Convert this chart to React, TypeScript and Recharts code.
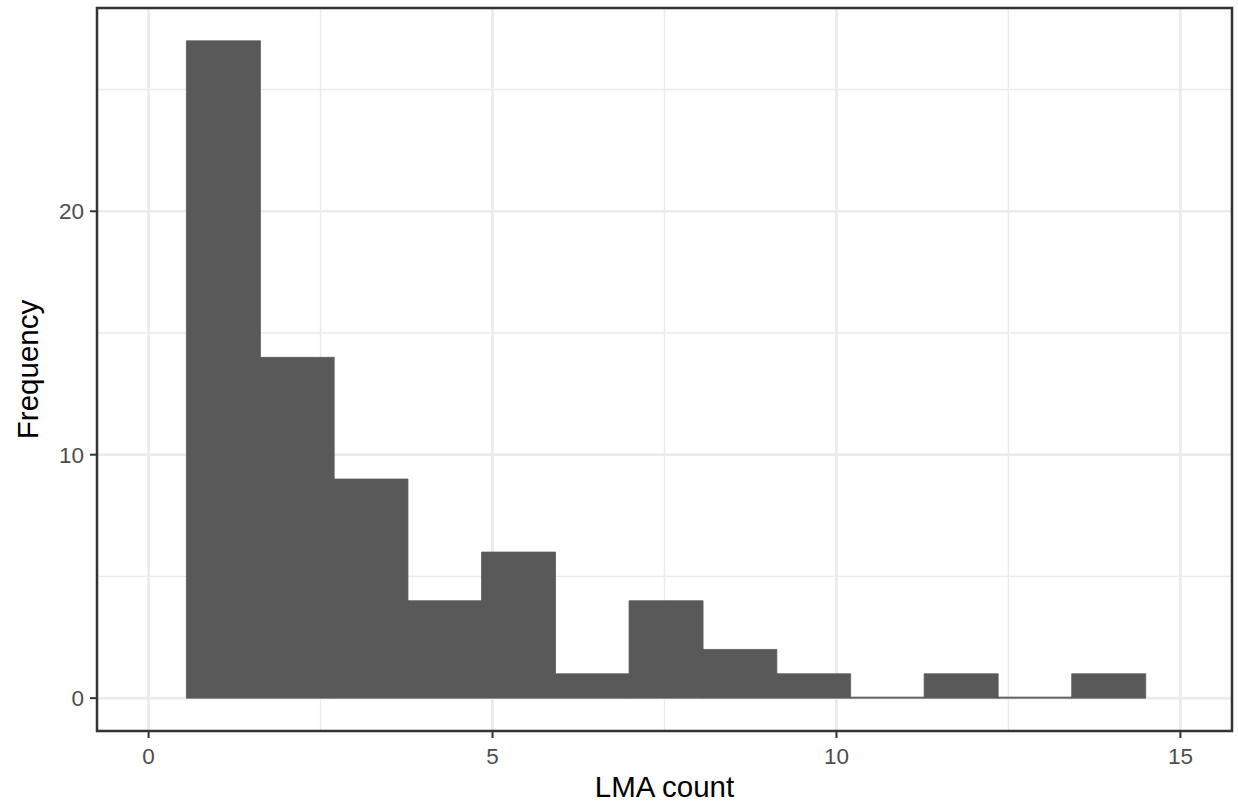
import React from 'react';
import {
  BarChart,
  Bar,
  XAxis,
  YAxis,
  CartesianGrid,
  ReferenceArea,
  Label,
} from 'recharts';

// histogram bins (centre of each bin) and their counts
const binCentres = [1.086, 2.1585, 3.231, 4.3035, 5.376, 6.4485, 7.521, 8.5935, 9.666, 10.7385, 11.811, 12.8835, 13.956];
const counts = [27, 14, 9, 4, 6, 1, 4, 2, 1, 0, 1, 0, 1];

const xTicks = [0, 5, 10, 15];
const xMinor = [2.5, 7.5, 12.5];
const yTicks = [0, 10, 20];
const yMinor = [5, 15, 25];
const xDomain: [number, number] = [-0.75, 15.75];
const yDomain: [number, number] = [-1.35, 28.35];

const data = binCentres.map((x, i) => ({ x, count: counts[i] }));

const FONT = '"Liberation Sans", Arial, Helvetica, sans-serif';

export default function App() {
  return (
    <div style={{ position: 'absolute', left: 0, top: 0, fontFamily: FONT }}>
      <BarChart
        width={1238}
        height={803}
        data={data}
        margin={{ top: 8, right: 6, left: 0, bottom: 0 }}
        barCategoryGap={0}
        barGap={0}
      >
        <CartesianGrid
          stroke="#EBEBEB"
          strokeWidth={1.4}
          horizontalValues={yMinor}
          verticalValues={xMinor}
        />
        <CartesianGrid
          stroke="#EBEBEB"
          strokeWidth={2.7}
          horizontalValues={yTicks}
          verticalValues={xTicks}
        />
        <XAxis
          dataKey="x"
          type="number"
          domain={xDomain}
          allowDataOverflow
          ticks={xTicks}
          height={72}
          axisLine={false}
          tickSize={7}
          tickMargin={10}
          tickLine={{ stroke: '#333333', strokeWidth: 2 }}
          tick={{ fill: '#4D4D4D', fontSize: 22.5, fontFamily: FONT }}
        >
          <Label
            content={({ viewBox }: any) => (
              <text
                x={viewBox.x + viewBox.width / 2}
                y={viewBox.y + viewBox.height - 6}
                textAnchor="middle"
                fontSize={29.5}
                fill="#000000"
                fontFamily={FONT}
              >
                LMA count
              </text>
            )}
          />
        </XAxis>
        <YAxis
          type="number"
          domain={yDomain}
          allowDataOverflow
          ticks={yTicks}
          width={97}
          axisLine={false}
          tickSize={7}
          tickMargin={6}
          tickLine={{ stroke: '#333333', strokeWidth: 2 }}
          tick={{ fill: '#4D4D4D', fontSize: 22.5, fontFamily: FONT }}
        >
          <Label
            content={({ viewBox }: any) => {
              const cx = viewBox.x + 38;
              const cy = viewBox.y + viewBox.height / 2;
              return (
                <text
                  x={cx}
                  y={cy}
                  transform={`rotate(-90, ${cx}, ${cy})`}
                  textAnchor="middle"
                  fontSize={29.5}
                  fill="#000000"
                  fontFamily={FONT}
                >
                  Frequency
                </text>
              );
            }}
          />
        </YAxis>
        <Bar
          dataKey="count"
          fill="#595959"
          stroke="#595959"
          strokeWidth={0.8}
          minPointSize={1}
          isAnimationActive={false}
        />
        <ReferenceArea
          x1={xDomain[0]}
          x2={xDomain[1]}
          y1={yDomain[0]}
          y2={yDomain[1]}
          fill="none"
          fillOpacity={0}
          stroke="#333333"
          strokeWidth={2.5}
          ifOverflow="visible"
        />
      </BarChart>
    </div>
  );
}
